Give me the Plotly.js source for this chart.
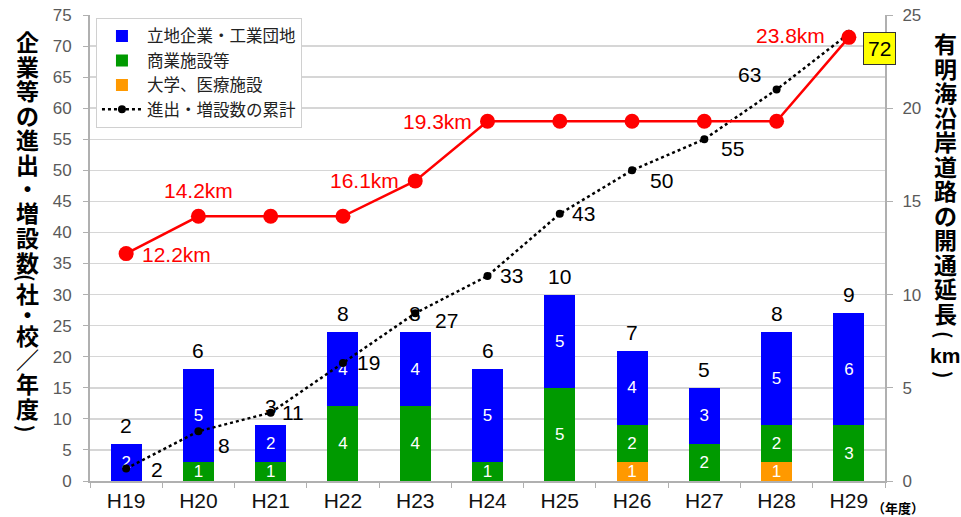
<!DOCTYPE html>
<html>
<head>
<meta charset="utf-8">
<script src="https://cdn.plot.ly/plotly-3.0.1.min.js"></script>
<style>
html,body{margin:0;padding:0;background:#fff;}
#chart{width:961px;height:517px;}
</style>
</head>
<body>
<div id="chart"></div>
<script>
// ---- data ----
const categories = ['H19','H20','H21','H22','H23','H24','H25','H26','H27','H28','H29'];
const industrial = [2,5,2,4,4,5,5,4,3,5,6];          // 立地企業・工業団地
const commercial = [0,1,1,4,4,1,5,2,2,2,3];          // 商業施設等
const university = [0,0,0,0,0,0,0,1,0,1,0];          // 大学、医療施設
const totals     = [2,6,3,8,8,6,10,7,5,8,9];         // 年度ごとの合計
const cumulative = [2,8,11,19,27,33,43,50,55,63,72]; // 進出・増設数の累計
const roadKm     = [12.2,14.2,14.2,14.2,16.1,19.3,19.3,19.3,19.3,19.3,23.8];
const kmLabels   = ['12.2km','14.2km','','','16.1km','19.3km','','','','','23.8km'];
const leftTitle  = ['企','業','等','の','進','出','・','増','設','数','(','社','・','校','／','年','度',')'];
const rightTitle = ['有','明','海','沿','岸','道','路','の','開','通','延','長','(','km',')'];

// ---- styles / label placement ----
const FONT = '"Liberation Sans", Arial, sans-serif';
const NFONT = '"Liberation Sans Narrow", "Liberation Sans", Arial, sans-serif';
const JFONT = '"Noto Sans CJK JP", "Noto Sans", sans-serif';
const cumShiftX = [31,26,22,26,31,24,24,29,28,-27,31];
const cumShiftY = [-1,-14,0,0,-7,0,0,-10,-9,15,-15];
const kmAnchor  = ['left','center','center','center','right','right','center','center','center','center','right'];
const kmShiftX  = [14,0,0,0,-14,-14,0,0,0,0,-22];
const kmShiftY  = [-1,26,0,0,0,0,0,0,0,0,2];
const leftCharY  = [41,65.5,90,114.5,139,163.5,188,212.5,237,261.5,278,293,314,335,359,383,408,429];
const rightCharY = [43,67.5,92,116.5,141,165.5,190,214.5,239,263.5,288,312.5,335,355,375];

const isParen = ch => ch === '(' || ch === ')';
const segText = arr => arr.map(v => v > 0 ? String(v) : '');
const barCommon = {
  type:'bar', x:categories, xaxis:'x', yaxis:'y',
  textposition:'inside', insidetextanchor:'middle', constraintext:'none', textangle:0,
  textfont:{family:FONT, size:17, color:'#ffffff'}, hoverinfo:'skip'
};

const traces = [
  Object.assign({}, barCommon, {name:'立地企業・工業団地', y:industrial, text:segText(industrial), marker:{color:'#0000ff'}, legendrank:1}),
  Object.assign({}, barCommon, {name:'商業施設等', y:commercial, text:segText(commercial), marker:{color:'#009a00'}, legendrank:2}),
  Object.assign({}, barCommon, {name:'大学、医療施設', y:university, text:segText(university), marker:{color:'#ff9900'}, legendrank:3}),
  {type:'scatter', mode:'lines+markers', name:'進出・増設数の累計', x:categories, y:cumulative, yaxis:'y2',
   line:{color:'#000', width:2.5, dash:'dot'}, marker:{color:'#000', size:8}, legendrank:4},
  {type:'scatter', mode:'lines+markers', name:'開通延長', x:categories, y:roadKm, yaxis:'y3',
   line:{color:'#ff0000', width:2.5}, marker:{color:'#ff0000', size:15}, showlegend:false}
];
// stack order: orange bottom, then green, then blue
const ordered = [traces[2], traces[1], traces[0], traces[3], traces[4]];

const annotations = [];
// totals above bars
categories.forEach((c,i) => annotations.push({
  x:c, y:university[i]+commercial[i]+industrial[i], xref:'x', yref:'y', text:String(totals[i]),
  showarrow:false, yanchor:'bottom', yshift:5, font:{family:FONT, size:21, color:'#000'}
}));
// cumulative labels
categories.forEach((c,i) => {
  const last = i === categories.length-1;
  annotations.push({
    x:c, y:cumulative[i], xref:'x', yref:'y2', text:String(cumulative[i]), showarrow:false,
    xshift:cumShiftX[i], yshift:cumShiftY[i], font:{family:FONT, size:21, color:'#000'},
    bgcolor: last ? '#ffff00' : 'rgba(0,0,0,0)', bordercolor: last ? '#333' : 'rgba(0,0,0,0)',
    borderwidth: last ? 1 : 0, borderpad: last ? 4 : 0
  });
});
// km labels
categories.forEach((c,i) => { if (kmLabels[i]) annotations.push({
  x:c, y:roadKm[i], xref:'x', yref:'y3', text:kmLabels[i], showarrow:false,
  xanchor:kmAnchor[i], xshift:kmShiftX[i], yshift:kmShiftY[i],
  font:{family:FONT, size:21, color:'#ff0000'}
});});
// vertical axis titles (one upright character per position; brackets turned for vertical writing)
const plotTop = 15, plotH = 466, plotL = 90, plotW = 795;
function addVertical(chars, ys, px) {
  chars.forEach((ch,i) => annotations.push({
    xref:'paper', yref:'paper', x:(px-plotL)/plotW, y:(plotTop+plotH-ys[i])/plotH,
    text:ch, showarrow:false, xanchor:'center', yanchor:'middle',
    textangle: isParen(ch) ? 90 : 0,
    font:{family: ch === 'km' ? NFONT : JFONT, size: isParen(ch) ? 20 : (ch === 'km' ? 21 : 23),
          color:'#000', weight:'bold'}
  }));
}
addVertical(leftTitle, leftCharY, 27);
addVertical(rightTitle, rightCharY, 945);
annotations.push({
  xref:'paper', yref:'paper', x:(870-plotL)/plotW, y:(plotTop+plotH-507)/plotH,
  text:'（年度）', showarrow:false, xanchor:'left', yanchor:'middle',
  font:{family:JFONT, size:13, color:'#000', weight:'bold'}
});

const layout = {
  width:961, height:517,
  margin:{l:90, r:76, t:15, b:36},
  paper_bgcolor:'#fff', plot_bgcolor:'#fff',
  barmode:'stack', bargap:0.57,
  showlegend:true,
  legend:{x:0.0075, y:0.994, xanchor:'left', yanchor:'top', bgcolor:'#fff',
          bordercolor:'#d0d0d0', borderwidth:1, traceorder:'normal',
          font:{family:JFONT, size:16.5, color:'#222'}, itemwidth:40, tracegroupgap:0},
  xaxis:{type:'category', categoryorder:'array', categoryarray:categories, range:[-0.5, 10.5],
         showline:true, linecolor:'#b0b0b0', linewidth:2, ticks:'outside', tickson:'boundaries',
         ticklen:5, tickcolor:'#b0b0b0', tickfont:{family:FONT, size:21, color:'#111'},
         showgrid:false, zeroline:false, fixedrange:true},
  yaxis:{range:[0,25.0001], tick0:0, dtick:5/3, showticklabels:false, ticks:'',
         showgrid:true, gridcolor:'#d6d6d6', gridwidth:1.5, zeroline:false, showline:false},
  yaxis2:{overlaying:'y', side:'left', range:[0,75.0003], tick0:0, dtick:5, showgrid:false, zeroline:false,
          showline:true, linecolor:'#b0b0b0', linewidth:2, ticks:'outside', ticklen:5, tickcolor:'#b0b0b0',
          ticklabelstandoff:8, tickfont:{family:FONT, size:17, color:'#5a5a5a'}},
  yaxis3:{overlaying:'y', side:'right', range:[0,25.0001], tick0:0, dtick:5, showgrid:false, zeroline:false,
          showline:true, linecolor:'#b0b0b0', linewidth:2, ticks:'outside', ticklen:6, tickcolor:'#b0b0b0',
          ticklabelstandoff:6, tickfont:{family:FONT, size:17, color:'#5a5a5a'}},
  annotations:annotations
};

Plotly.newPlot('chart', ordered, layout, {staticPlot:true, displayModeBar:false});
</script>
</body>
</html>
